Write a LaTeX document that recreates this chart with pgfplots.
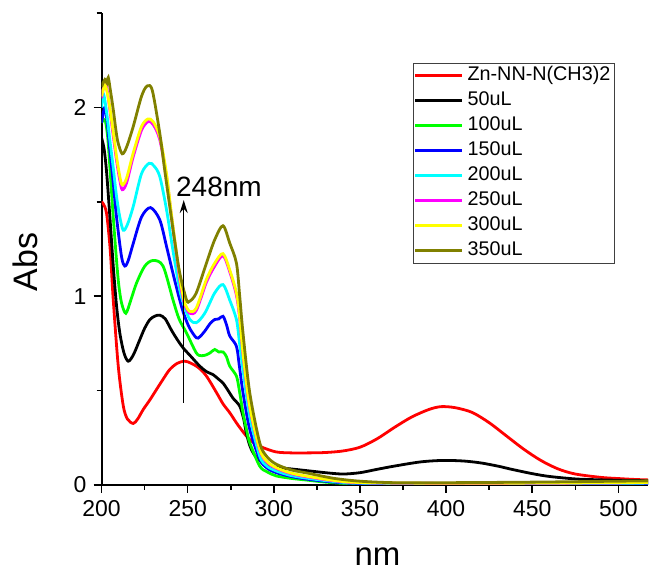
\documentclass[border=0pt]{standalone}
\usepackage{fontspec}
\setmainfont{Liberation Sans}
\usepackage{pgfplots}
\pgfplotsset{compat=1.18}
\usetikzlibrary{arrows.meta}

\definecolor{cred}{RGB}{255,0,0}
\definecolor{cgreen}{RGB}{0,255,0}
\definecolor{cblue}{RGB}{0,0,255}
\definecolor{ccyan}{RGB}{0,255,255}
\definecolor{cmag}{RGB}{255,0,255}
\definecolor{cyel}{RGB}{255,255,0}
\definecolor{colive}{RGB}{128,128,0}

\begin{document}
\begin{tikzpicture}
  \begin{axis}[
      width=273.65pt, height=236.2pt, scale only axis,
      xmin=200, xmax=517.2, ymin=0, ymax=2.5,
      axis lines=left,
      axis line style={-, line width=1pt},
      xtick={200,250,...,500}, minor xtick={225,275,...,475},
      ytick={0,1,2}, minor ytick={0.5,1.5,2.5},
      tick align=outside,
      major tick length=4pt, minor tick length=2.5pt,
      tick style={black, line width=0.8pt},
      every tick label/.append style={font=\fontsize{11.5}{12}\selectfont},
      /pgf/number format/assume math mode=true,
      xlabel={nm}, ylabel={Abs},
      xlabel style={at={([yshift=-40.5pt]axis description cs:0.505,0)}, anchor=base, font=\fontsize{16.5}{17}\selectfont},
      ylabel style={at={([xshift=-37.9pt]axis description cs:0,0.473)}, anchor=center, font=\fontsize{17}{17}\selectfont},
      legend cell align=left,
      legend style={at={(axis description cs:0.5706,0.8948)}, anchor=north west,
        draw=black!75, line width=0.5pt, inner sep=0pt, row sep=0pt,
        font=\fontsize{9.9}{10}\selectfont,
        nodes={inner xsep=2pt, inner ysep=1.25pt, text height=7.5pt, text depth=2.5pt}},
      legend image code/.code={\draw[#1] (0pt,0pt) -- (23.5pt,0pt);},
      every axis plot/.append style={line width=1.4pt, smooth, tension=0.5},
    ]
    \addplot[cred] coordinates {(200,1.50) (201,1.49) (202.9,1.44) (205,1.25) (206.8,0.98) (209.7,0.63) (212.6,0.42) (215,0.35) (218.4,0.326) (221,0.35) (224.2,0.40) (228,0.45) (231.9,0.506) (235.7,0.56) (239.6,0.612) (244,0.645) (248.3,0.656) (252,0.645) (256.5,0.62) (260.9,0.577) (266.7,0.49) (270.5,0.43) (274.4,0.383) (279,0.32) (284,0.26) (288,0.225) (293.7,0.198) (301.4,0.175) (310,0.17) (320,0.17) (330,0.172) (340,0.18) (350,0.20) (360,0.245) (370,0.305) (380,0.36) (390,0.40) (397,0.415) (405,0.41) (415,0.385) (425,0.33) (435,0.26) (445,0.19) (455,0.13) (465,0.085) (475,0.058) (490,0.04) (500,0.034) (510,0.029) (520,0.026)};
    \addlegendentry{Zn-NN-N(CH3)2}
    \addplot[black] coordinates {(200,1.84) (201.5,1.78) (203,1.65) (205,1.40) (206.8,1.16) (208.7,0.95) (210.6,0.806) (213,0.70) (215.5,0.656) (218.5,0.69) (222.2,0.77) (225,0.83) (228,0.876) (231,0.895) (233.8,0.90) (237,0.88) (240.6,0.82) (244,0.77) (247.3,0.727) (252,0.68) (257,0.63) (261,0.60) (264.7,0.585) (268,0.56) (270.5,0.54) (273.5,0.50) (276.3,0.46) (280.2,0.418) (282.5,0.35) (284,0.277) (286,0.21) (288,0.17) (291,0.135) (295.7,0.11) (300,0.095) (310,0.085) (320,0.075) (330,0.065) (340,0.058) (350,0.065) (360,0.083) (370,0.10) (385,0.122) (398,0.13) (410,0.127) (420,0.117) (430,0.1) (438,0.083) (450,0.06) (460,0.045) (475,0.032) (490,0.027) (505,0.024) (520,0.022)};
    \addlegendentry{50uL}
    \addplot[cgreen] coordinates {(200,1.92) (202,1.935) (203.5,1.85) (204.8,1.69) (206.8,1.42) (208.7,1.19) (210,1.06) (211.6,0.965) (214.1,0.91) (217,0.98) (220.3,1.07) (225.1,1.16) (230,1.19) (235.7,1.16) (241.5,0.98) (245,0.88) (249.3,0.806) (255,0.70) (258,0.685) (260.9,0.69) (263,0.70) (265.7,0.718) (268,0.705) (270.5,0.705) (272.5,0.68) (274.4,0.63) (278.3,0.577) (280,0.50) (282.1,0.383) (284,0.30) (286,0.224) (291.8,0.10) (296,0.07) (301.4,0.048) (310,0.035) (320,0.025) (330,0.015) (345,0.006) (360,0.003) (400,0.003) (450,0.004) (520,0.006)};
    \addlegendentry{100uL}
    \addplot[cblue] coordinates {(200,1.92) (201,1.97) (202,2.0) (203.3,1.92) (204.8,1.776) (206.8,1.60) (208.7,1.42) (211.6,1.21) (213.5,1.16) (215.5,1.19) (218.4,1.28) (223.2,1.42) (228.4,1.47) (233.8,1.405) (237.7,1.265) (241.5,1.12) (245.4,0.98) (248,0.9) (251.2,0.83) (255,0.78) (257,0.785) (259.9,0.815) (263,0.855) (265.7,0.877) (268,0.88) (270.5,0.894) (272.5,0.85) (274.4,0.79) (278.3,0.735) (280,0.63) (282.1,0.49) (286,0.295) (291.8,0.136) (296,0.09) (301.4,0.065) (310,0.045) (320,0.03) (335,0.015) (350,0.008) (400,0.005) (450,0.006) (520,0.008)};
    \addlegendentry{150uL}
    \addplot[ccyan] coordinates {(200,2.0) (201.2,2.07) (203,1.97) (204.8,1.83) (206.8,1.68) (208.7,1.53) (210.6,1.42) (212.6,1.35) (215,1.38) (218.4,1.476) (223.2,1.65) (227.6,1.705) (230.5,1.69) (233.8,1.635) (237.7,1.46) (241.5,1.24) (245.4,1.035) (248,0.95) (251.2,0.877) (255,0.86) (259.9,0.91) (265.7,1.018) (270.5,1.062) (274.4,0.98) (278.3,0.877) (280,0.76) (282.1,0.61) (286,0.365) (291.8,0.153) (296,0.1) (301.4,0.074) (310,0.05) (320,0.035) (335,0.018) (350,0.01) (400,0.007) (450,0.008) (520,0.01)};
    \addlegendentry{200uL}
    \addplot[cmag] coordinates {(200,2.05) (202,2.14) (203.5,2.08) (204.8,1.99) (206.8,1.85) (208.7,1.72) (210.5,1.62) (212,1.565) (214.5,1.60) (218.4,1.74) (223.2,1.88) (227,1.926) (230,1.91) (233.8,1.83) (237.7,1.635) (240.5,1.43) (243.5,1.22) (246,1.05) (248.3,0.955) (251.2,0.91) (255,0.925) (260.9,1.075) (265.7,1.16) (270.5,1.215) (274.4,1.13) (278.3,1.005) (280.2,0.88) (282.1,0.69) (286,0.41) (291.8,0.185) (296,0.12) (301.4,0.088) (310,0.06) (320,0.042) (335,0.022) (350,0.012) (400,0.008) (450,0.009) (520,0.012)};
    \addlegendentry{250uL}
    \addplot[cyel] coordinates {(200,2.06) (202,2.12) (203.5,2.07) (204.8,2.0) (206.8,1.87) (208.7,1.74) (210.5,1.64) (212,1.59) (214.5,1.625) (218.4,1.76) (223.2,1.90) (227,1.94) (230,1.925) (233.8,1.846) (237.7,1.65) (240.5,1.44) (243.5,1.23) (246,1.07) (248.3,0.965) (251.2,0.92) (255,0.938) (260.9,1.09) (265.7,1.176) (270.5,1.226) (274.4,1.14) (278.3,1.018) (280.2,0.89) (282.1,0.70) (286,0.418) (291.8,0.19) (296,0.125) (301.4,0.092) (310,0.063) (320,0.045) (335,0.024) (350,0.013) (400,0.009) (450,0.01) (520,0.013)};
    \addlegendentry{300uL}
    \addplot[colive] coordinates {(200,2.11) (202,2.15) (203.2,2.13) (203.9,2.16) (205,2.10) (206.8,1.99) (208.5,1.87) (209.7,1.81) (212,1.755) (214.5,1.79) (218.4,1.90) (223.2,2.06) (226.5,2.115) (229.5,2.09) (233.8,1.864) (236.5,1.68) (239.6,1.476) (242.5,1.29) (245.4,1.123) (249.3,0.982) (251.2,0.974) (255,1.018) (260.9,1.176) (265.7,1.30) (270.5,1.374) (274.4,1.282) (278.3,1.176) (280.2,1.0) (282.1,0.806) (286,0.49) (291.8,0.224) (296,0.15) (301.4,0.11) (310,0.08) (320,0.062) (335,0.035) (350,0.02) (370,0.012) (400,0.012) (450,0.015) (500,0.02) (520,0.022)};
    \addlegendentry{350uL}
    \draw[-{Stealth[length=6.5pt,width=4pt]}, line width=0.7pt] (axis cs:247.7,0.437) -- (axis cs:247.7,1.51);
    \node[anchor=base west, inner sep=0pt, font=\fontsize{14}{14}\selectfont] at (axis cs:243.1,1.527) {248nm};
    \coordinate (BL) at (axis description cs:0,0);
    \coordinate (TR) at (axis description cs:1,1);
  \end{axis}
  \path ([xshift=-50.85pt,yshift=-41.65pt]BL) rectangle ([yshift=6.65pt]TR);
\end{tikzpicture}
\end{document}
